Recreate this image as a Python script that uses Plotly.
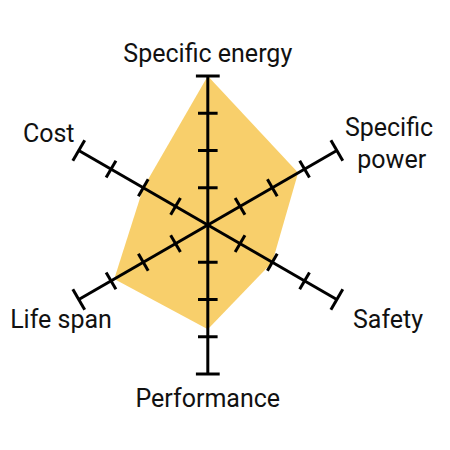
import plotly.graph_objects as go

categories = ["Specific energy", "Specific power", "Safety", "Performance", "Life span", "Cost"]
label_texts = ["Specific energy", "Specific<br>&nbsp;&nbsp;power", "Safety", "Performance", "Life span", "Cost"]
values = [4.0, 2.8, 2.0, 2.8, 2.9, 2.0]
tick_values = [1, 2, 3]
axis_max = 4

# label placement (style): radial distance and text anchor per spoke
label_r = [4.22, 4.25, 4.5, 4.38, 4.55, 4.13]
label_pos = ["top center", "middle right", "bottom right", "bottom center", "bottom center", "top left"]

fill_color = "#F8CF6B"
ink = "#000000"

# geometry: spoke length in px and radial range (extra room for labels)
r_view = 5.5
spoke_px = 149
cx, cy = 207.8, 225
R_px = spoke_px * r_view / axis_max

fig = go.Figure()

# filled polygon
fig.add_trace(go.Scatterpolar(
    r=values + values[:1], theta=categories + categories[:1],
    mode="lines", fill="toself", fillcolor=fill_color,
    line=dict(width=0, color=fill_color), hoverinfo="skip", cliponaxis=False,
))

# axis lines
ax_r, ax_t = [], []
for c in categories:
    ax_r += [0, axis_max, None]
    ax_t += [c, c, c]
fig.add_trace(go.Scatterpolar(
    r=ax_r, theta=ax_t, mode="lines", connectgaps=False,
    line=dict(color=ink, width=3), hoverinfo="skip", cliponaxis=False,
))

# tick marks and end caps (perpendicular to each spoke)
n = len(categories)
tr, tt, ta, cr, ct, ca = [], [], [], [], [], []
for i, c in enumerate(categories):
    ang = (360 / n * i) % 180
    for v in tick_values:
        tr.append(v); tt.append(c); ta.append(ang)
    cr.append(axis_max); ct.append(c); ca.append(ang)

fig.add_trace(go.Scatterpolar(
    r=tr, theta=tt, mode="markers", cliponaxis=False, hoverinfo="skip",
    marker=dict(symbol="line-ew", size=14, angle=ta, line=dict(color=ink, width=3)),
))
fig.add_trace(go.Scatterpolar(
    r=cr, theta=ct, mode="markers", cliponaxis=False, hoverinfo="skip",
    marker=dict(symbol="line-ew", size=17, angle=ca, line=dict(color=ink, width=3)),
))

# spoke labels
fig.add_trace(go.Scatterpolar(
    r=label_r, theta=categories, mode="text", text=label_texts,
    textposition=label_pos, cliponaxis=False, hoverinfo="skip",
    textfont=dict(family="Roboto", size=25, color="#111111"),
))

fig.update_layout(
    width=450, height=450,
    margin=dict(l=0, r=0, t=0, b=0),
    paper_bgcolor="white", plot_bgcolor="white",
    showlegend=False,
    polar=dict(
        domain=dict(x=[(cx - R_px) / 450, (cx + R_px) / 450],
                    y=[(450 - cy - R_px) / 450, (450 - cy + R_px) / 450]),
        bgcolor="rgba(0,0,0,0)",
        radialaxis=dict(visible=False, range=[0, r_view]),
        angularaxis=dict(
            direction="clockwise", rotation=90,
            showline=False, showgrid=False, ticks="", showticklabels=False,
        ),
    ),
)

fig.write_html("out.html", config={"displayModeBar": False},
               post_script="document.body.style.margin='0';")
